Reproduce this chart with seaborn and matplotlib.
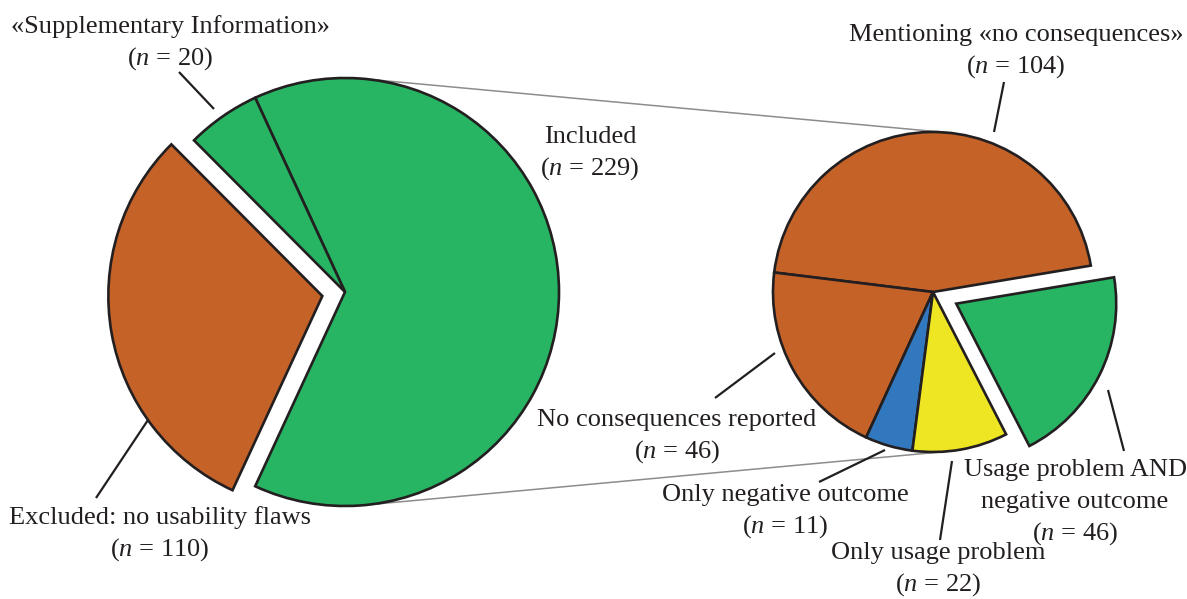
import math
import matplotlib
matplotlib.use("Agg")
import matplotlib.pyplot as plt
import seaborn as sns

sns.set_theme(style="white")
plt.rcParams["font.family"] = ["Liberation Serif", "DejaVu Serif"]
plt.rcParams["mathtext.fontset"] = "custom"
plt.rcParams["mathtext.rm"] = "Liberation Serif"
plt.rcParams["mathtext.it"] = "Liberation Serif:italic"

# ---- data -------------------------------------------------------------
screen_labels = ["Included", "\u00abSupplementary Information\u00bb",
                 "Excluded: no usability flaws"]
screen_counts = [229, 20, 110]

detail_labels = ["Mentioning \u00abno consequences\u00bb",
                 "No consequences reported", "Only negative outcome",
                 "Only usage problem", "Usage problem AND\nnegative outcome"]
detail_counts = [104, 46, 11, 22, 46]

# ---- style ------------------------------------------------------------
ORANGE = "#C46228"
GREEN = "#27B463"
BLUE = "#3278BE"
YELLOW = "#EEE623"
EDGE = "#231F20"
GREY = "#8C8C8C"

W, H = 1187, 599
fig = plt.figure(figsize=(W / 100, H / 100), dpi=100)
ax = fig.add_axes([0, 0, 1, 1])

def Y(y):
    # layout positions are given top-down; the axes runs bottom-up
    return H - y

wedge_kw = dict(edgecolor=EDGE, linewidth=1.9, joinstyle="miter")

# left pie: screening outcome
c1, r1 = (345, Y(292)), 214
start1 = -180 * screen_counts[0] / sum(screen_counts)
ax.pie(screen_counts, colors=[GREEN, GREEN, ORANGE], center=c1, radius=r1,
       startangle=start1, explode=[0, 0, 23], wedgeprops=wedge_kw)

# right pie: breakdown of the included reports
c2, r2 = (933, Y(292)), 160
ax.pie(detail_counts, colors=[ORANGE, ORANGE, BLUE, YELLOW, GREEN],
       center=c2, radius=r2, startangle=9.5,
       explode=[0, 0, 0, 0, 26], wedgeprops=wedge_kw)

# external tangents joining the two pies
d = c2[0] - c1[0]
phi = math.asin((r1 - r2) / d)
for s in (1, -1):
    a = s * (math.pi / 2 - phi)
    p1 = (c1[0] + r1 * math.cos(a), c1[1] + r1 * math.sin(a))
    p2 = (c2[0] + r2 * math.cos(a), c2[1] + r2 * math.sin(a))
    ax.plot([p1[0], p2[0]], [p1[1], p2[1]], color=GREY, lw=1.1,
            zorder=0, solid_capstyle="butt")

# labels: (text, count, text centre x, first-line y, leader line)
FS = 19
label_specs = [
    (screen_labels[1], screen_counts[1], 170, 27, ((179, 72), (214, 109))),
    (screen_labels[0], screen_counts[0], 590, 137, None),
    (screen_labels[2], screen_counts[2], 160, 518, ((148, 420), (96, 498))),
    (detail_labels[0], detail_counts[0], 1016, 35, ((1004, 82), (994, 132))),
    (detail_labels[1], detail_counts[1], 677, 420, ((715, 398), (775, 353))),
    (detail_labels[2], detail_counts[2], 785, 495, ((819, 482), (885, 450))),
    (detail_labels[3], detail_counts[3], 938, 553, ((940, 540), (952, 461))),
    (detail_labels[4], detail_counts[4], 1075, 470, ((1108, 390), (1124, 451))),
]
LINE = 32
for text, n, x, y, leader in label_specs:
    lines = text.split("\n")
    for i, ln in enumerate(lines):
        ax.text(x, Y(y + i * LINE), ln, ha="center", va="center",
                fontsize=FS, color=EDGE)
    ax.text(x, Y(y + len(lines) * LINE), f"($n$ = {n})", ha="center",
            va="center", fontsize=FS, color=EDGE)
    if leader:
        (xa, ya), (xb, yb) = leader
        ax.plot([xa, xb], [Y(ya), Y(yb)], color=EDGE, lw=1.6,
                solid_capstyle="butt")

ax.set_xlim(0, W)
ax.set_ylim(0, H)
ax.set_aspect("equal")
ax.axis("off")
fig.savefig("out.png", dpi=100, facecolor="white")
